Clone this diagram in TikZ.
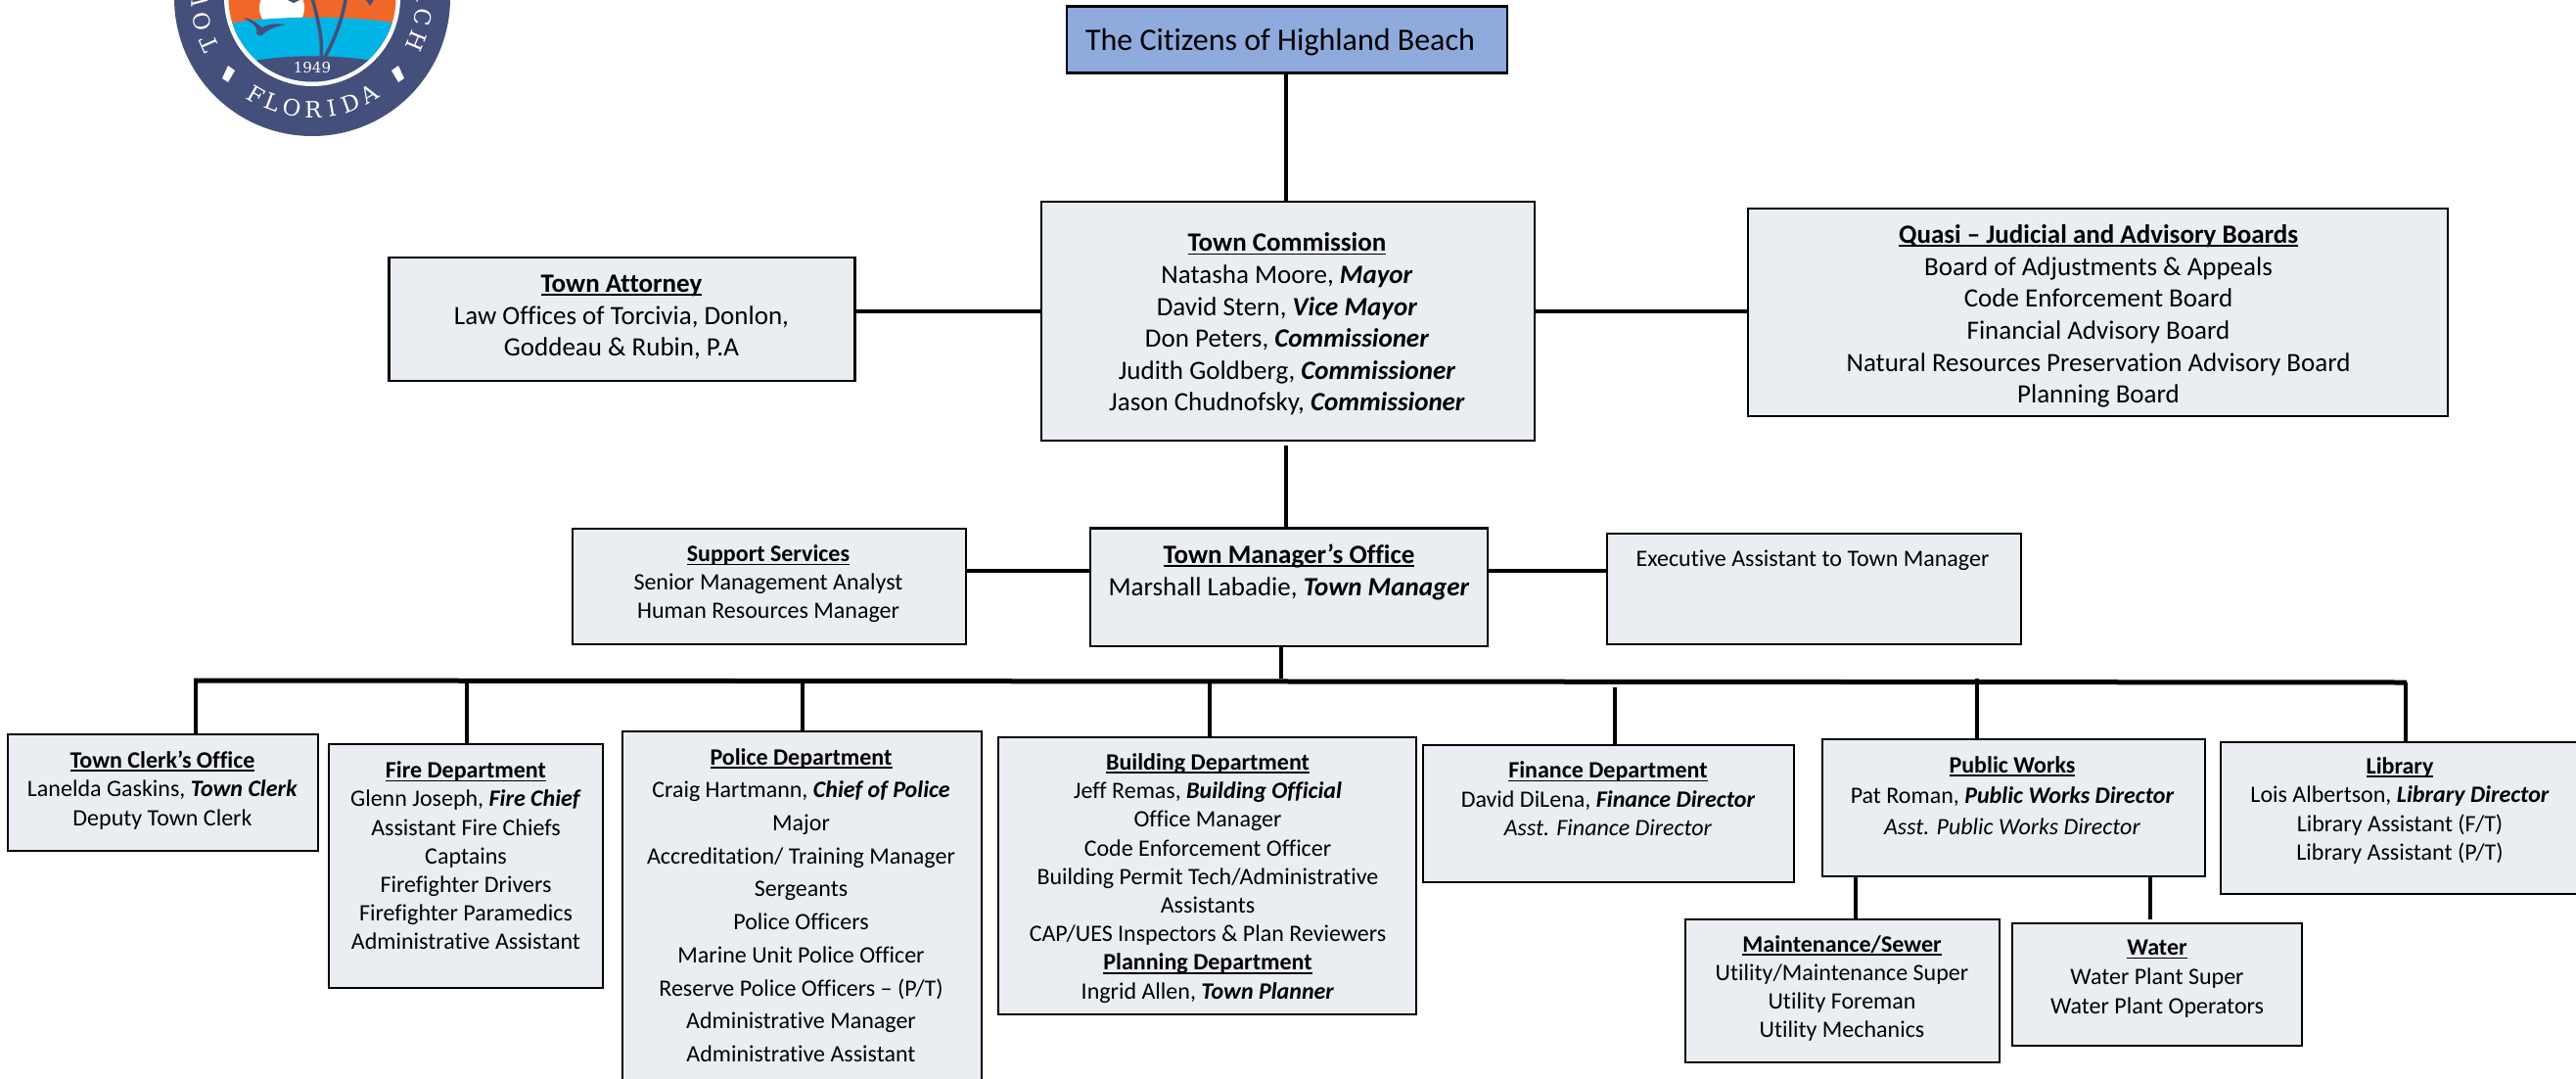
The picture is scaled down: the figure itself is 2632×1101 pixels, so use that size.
\documentclass[tikz,border=0pt]{standalone}
\usepackage{fontspec}
\setmainfont{Carlito}[Ligatures={NoCommon}]
\newfontfamily\logofont{DejaVu Serif}
\usetikzlibrary{calc}
\definecolor{boxfill}{HTML}{EAEDF2}
\definecolor{citfill}{HTML}{8FAADC}
\definecolor{navy}{HTML}{454F7C}
\definecolor{sunset}{HTML}{F0672A}
\definecolor{seablue}{HTML}{00B4E5}
\newsavebox{\ulbox}
\newcommand{\uln}[1]{\sbox{\ulbox}{#1}\leavevmode\rlap{\rule[-3.6pt]{\wd\ulbox}{1.8pt}}\usebox{\ulbox}}
\newcommand{\hd}[1]{\textbf{\uln{#1}}}
\newcommand{\ro}[1]{\textbf{\textit{#1}}}
\newcommand{\fs}[2]{\fontsize{#1}{#2}\selectfont}
\tikzset{
  orgbox/.style={draw=black,line width=2.6pt,fill=boxfill,inner sep=0pt,outer sep=0pt},
  txt/.style={align=center,inner sep=0pt,outer sep=0pt,text=black},
  conn/.style={draw=black,line width=3.6pt},
  bus/.style={draw=black,line width=5pt},
  logoletter/.style={text=white,inner sep=0pt,font=\logofont\fontsize{23}{23}\selectfont}
}
\begin{document}
\begin{tikzpicture}[x=1pt,y=-1pt]
\path[use as bounding box,clip] (0,0) rectangle (2632,1101);
\fill[white] (0,0) rectangle (2632,1101);
% logo
\fill[navy] (319,-2) circle (141);
\fill[white] (319,-2) circle (90);
\begin{scope}
\clip (319,-2) circle (85.5);
\fill[sunset] (230,-90) rectangle (410,40);
\fill[white] (288,8) circle (23);
\fill[seablue] (225,26) .. controls (270,15) and (370,15) .. (415,26) -- (415,90) -- (225,90) -- cycle;
\fill[navy] (250,64) .. controls (290,55) and (350,55) .. (390,64) -- (390,95) -- (250,95) -- cycle;
\draw[navy,line width=3.5pt] (328,58) .. controls (330,40) and (325,20) .. (318,-6);
\draw[navy,line width=3.5pt] (332,58) .. controls (342,40) and (350,20) .. (354,-6);
\fill[navy] (249,18) .. controls (256,18) and (262,24) .. (268,28) .. controls (275,24) and (283,24) .. (292,25) .. controls (282,27) and (276,29) .. (270,34) .. controls (268,37) and (263,37) .. (262,34) .. controls (263,30) and (262,28) .. (260,26) .. controls (257,23) and (253,21) .. (249,18) -- cycle;
\fill[navy] (294,0) -- (300,3) -- (306,0) -- cycle;
\fill[navy] (374,0) -- (378,6) -- (382,0) -- cycle;
\end{scope}
\node[text=white,inner sep=0pt,font=\logofont\fontsize{15}{15}\selectfont] (year) at (319,69.5) {1949};
\foreach \ch/\th in {F/-30,L/-20.5,O/-10.5,R/0.5,I/10,D/20,A/31}{
  \node[logoletter,rotate=\th] (fl\ch) at ({319+114*sin(\th)},{-2+114*cos(\th)}) {\ch};
}
\foreach \ch/\ph [count=\i] in {T/-114,O/-102,W/-89,H/112.5,C/100,A/88}{
  \node[logoletter,rotate={-\ph}] (tw\i) at ({319+115*sin(\ph)},{-2-115*cos(\ph)}) {\ch};
}
\fill[white] (233,67) -- (240,72) -- (233,84) -- (227,80) -- cycle;
\fill[white] (407,67) -- (400,72) -- (407,84) -- (413,80) -- cycle;
% boxes
\node[orgbox,fill=citfill,minimum width=450pt,minimum height=68.5pt] (citizens) at (1315,40.5) {};
\node[txt,font=\fs{32}{40}] (citizensT) at (1308,43) {The Citizens of Highland Beach};
\node[orgbox,minimum width=504pt,minimum height=244pt] (comm) at (1316,328) {};
\node[txt,font=\fs{27}{32.6}] (commT) at (1315,331) {\hd{Town Commission}\\Natasha Moore, \ro{Mayor}\\David Stern, \ro{Vice Mayor}\\Don Peters, \ro{Commissioner}\\Judith Goldberg, \ro{Commissioner}\\Jason Chudnofsky, \ro{Commissioner}};
\node[orgbox,minimum width=476pt,minimum height=126pt] (attorney) at (635.5,326) {};
\node[txt,font=\fs{27}{32.5}] (attorneyT) at (635,324) {\hd{Town Attorney}\\Law Offices of Torcivia, Donlon,\\Goddeau \& Rubin, P.A};
\node[orgbox,minimum width=715pt,minimum height=212pt] (quasi) at (2143.5,319) {};
\node[txt,font=\fs{27}{32.6}] (quasiT) at (2144,323) {\hd{Quasi -- Judicial and Advisory Boards}\\Board of Adjustments \& Appeals\\Code Enforcement Board\\Financial Advisory Board\\Natural Resources Preservation Advisory Board\\Planning Board};
\node[orgbox,minimum width=402pt,minimum height=118pt] (support) at (786,599) {};
\node[txt,font=\fs{24}{29}] (supportT) at (785,596.5) {\hd{Support Services}\\Senior Management Analyst\\Human Resources Manager};
\node[orgbox,minimum width=406pt,minimum height=120.5pt] (manager) at (1317,599.75) {};
\node[txt,font=\fs{27}{33}] (managerT) at (1317,584) {\hd{Town Manager’s Office}\\Marshall Labadie, \ro{Town Manager}};
\node[orgbox,minimum width=423pt,minimum height=113pt] (exec) at (1853.5,601.5) {};
\node[txt,font=\fs{24}{29}] (execT) at (1852,572.5) {Executive Assistant to Town Manager};
\node[orgbox,minimum width=317pt,minimum height=119pt] (clerk) at (166.5,809.5) {};
\node[txt,font=\fs{24}{29.5}] (clerkT) at (166,807) {\hd{Town Clerk’s Office}\\Lanelda Gaskins, \ro{Town Clerk}\\Deputy Town Clerk};
\node[orgbox,minimum width=280pt,minimum height=249pt] (fire) at (476,884.5) {};
\node[txt,font=\fs{24}{29.2}] (fireT) at (476,874) {\hd{Fire Department}\\Glenn Joseph, \ro{Fire Chief}\\Assistant Fire Chiefs\\Captains\\Firefighter Drivers\\Firefighter Paramedics\\Administrative Assistant};
\node[orgbox,minimum width=367pt,minimum height=400pt] (police) at (819.5,947) {};
\node[txt,font=\fs{24}{33.7}] (policeT) at (818.5,924.5) {\hd{Police Department}\\Craig Hartmann, \ro{Chief of Police}\\Major\\Accreditation/ Training Manager\\Sergeants\\Police Officers\\Marine Unit Police Officer\\Reserve Police Officers -- (P/T)\\Administrative Manager\\Administrative Assistant};
\node[orgbox,minimum width=427pt,minimum height=283pt] (building) at (1233.5,894.5) {};
\node[txt,font=\fs{24}{29.2}] (buildingT) at (1234,897) {\hd{Building Department}\\Jeff Remas, \ro{Building Official}\\Office Manager\\Code Enforcement Officer\\Building Permit Tech/Administrative\\Assistants\\CAP/UES Inspectors \& Plan Reviewers\\\hd{Planning Department}\\Ingrid Allen, \ro{Town Planner}};
\node[orgbox,minimum width=379pt,minimum height=140pt] (finance) at (1643.5,831) {};
\node[txt,font=\fs{24}{29.5}] (financeT) at (1643,816) {\hd{Finance Department}\\David DiLena, \ro{Finance Director}\\\textit{Asst. Finance Director}};
\node[orgbox,minimum width=391pt,minimum height=140pt] (works) at (2057.5,825) {};
\node[txt,font=\fs{24}{31.5}] (worksT) at (2056,812.5) {\hd{Public Works}\\Pat Roman, \ro{Public Works Director}\\\textit{Asst. Public Works Director}};
\node[orgbox,minimum width=365pt,minimum height=155pt] (library) at (2451.5,835.5) {};
\node[txt,font=\fs{24}{29.3}] (libraryT) at (2452,828) {\hd{Library}\\Lois Albertson, \ro{Library Director}\\Library Assistant (F/T)\\Library Assistant (P/T)};
\node[orgbox,minimum width=321pt,minimum height=146pt] (maint) at (1882.5,1012) {};
\node[txt,font=\fs{24}{29.3}] (maintT) at (1882,1009.5) {\hd{Maintenance/Sewer}\\Utility/Maintenance Super\\Utility Foreman\\Utility Mechanics};
\node[orgbox,minimum width=296pt,minimum height=125pt] (water) at (2204,1005.5) {};
\node[txt,font=\fs{24}{30}] (waterT) at (2204,1000) {\hd{Water}\\Water Plant Super\\Water Plant Operators};
% connector coordinates
\coordinate (citDrop) at (1314,75);
\coordinate (commDrop) at (1314,455);
\coordinate (mgrDrop) at (1309,660);
\coordinate (busMgr) at (1309,693);
\coordinate (busL) at (198,695);
\coordinate (busR) at (2459,697);
\coordinate (dClerk) at (200,695);
\coordinate (dFire) at (477,695);
\coordinate (dPolice) at (820,695);
\coordinate (dBuilding) at (1236,696);
\coordinate (dFinance) at (1650,702);
\coordinate (dWorks) at (2020,693);
\coordinate (dLibrary) at (2458,697);
\coordinate (wMaint) at (1896,895);
\coordinate (wWater) at (2197,895);
% connectors
\draw[conn] (citDrop) -- (citDrop |- comm.north);
\draw[conn] (commDrop) -- (commDrop |- manager.north);
\draw[conn] (attorney.east |- 0,318) -- (comm.west |- 0,318);
\draw[conn] (comm.east |- 0,318) -- (quasi.west |- 0,318);
\draw[conn] (support.east |- 0,583) -- (manager.west |- 0,583);
\draw[conn] (manager.east |- 0,583) -- (exec.west |- 0,583);
\draw[conn] (mgrDrop) -- (busMgr);
\draw[bus] (busL) -- (busR);
\draw[conn] (dClerk) -- (dClerk |- clerk.north);
\draw[conn] (dFire) -- (dFire |- fire.north);
\draw[conn] (dPolice) -- (dPolice |- police.north);
\draw[conn] (dBuilding) -- (dBuilding |- building.north);
\draw[conn] (dFinance) -- (dFinance |- finance.north);
\draw[conn] (dWorks) -- (dWorks |- works.north);
\draw[conn] (dLibrary) -- (dLibrary |- library.north);
\draw[conn] (wMaint) -- (wMaint |- maint.north);
\draw[conn] (wWater) -- (wWater |- maint.north);
\end{tikzpicture}
\end{document}
